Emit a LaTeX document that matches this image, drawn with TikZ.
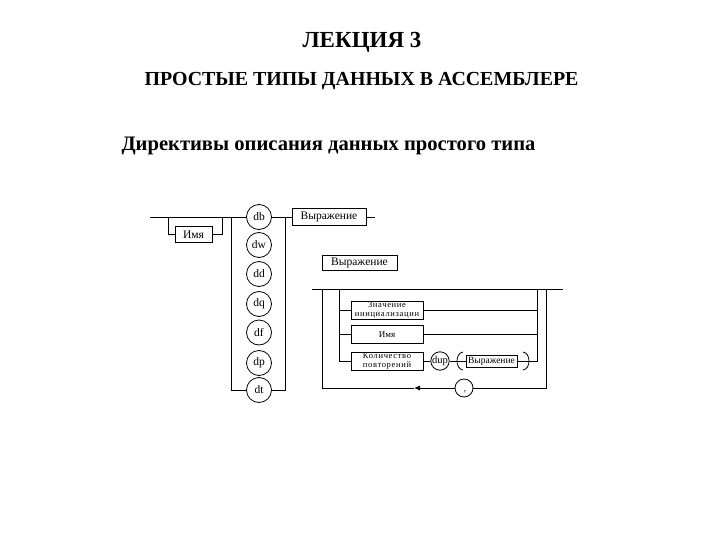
\documentclass[tikz,border=0pt]{standalone}
\usepackage{fontspec}
\setmainfont{Liberation Serif}
\newfontfamily\tmsfont{Liberation Serif}
\usetikzlibrary{arrows.meta}
\begin{document}
\begin{tikzpicture}[x=1pt,y=-1pt,line width=0.8pt,
  title/.style={anchor=base,inner sep=0pt},
  term/.style={draw,circle,minimum size=25pt,inner sep=0pt,font=\tmsfont\fontsize{11.5}{12}\selectfont},
  box/.style={draw,rectangle,inner sep=0pt,font=\tmsfont\fontsize{11.5}{12}\selectfont},
  sbox/.style={draw,rectangle,inner sep=0pt,align=center,font=\tmsfont\fontsize{8.5}{8.5}\selectfont\addfontfeatures{LetterSpace=8}},
]
\useasboundingbox (0,0) rectangle (720,540);
% titles
\node[title,font=\tmsfont\bfseries\fontsize{23}{26}\selectfont] (t1) at (362,48) {ЛЕКЦИЯ 3};
\node[title,font=\tmsfont\bfseries\fontsize{19.9}{22}\selectfont] (t2) at (361.5,85.5) {ПРОСТЫЕ ТИПЫ ДАННЫХ В АССЕМБЛЕРЕ};
\node[title,font=\tmsfont\bfseries\fontsize{20.6}{22}\selectfont] (t3) at (328.5,151) {Директивы описания данных простого типа};
% left part
\coordinate (start) at (150,217);
\coordinate (bl) at (168,217);
\coordinate (br) at (222,217);
\coordinate (vl) at (231,217);
\coordinate (vr) at (285,217);
\coordinate (eend) at (375,217);
\node[box,minimum width=37pt,minimum height=15.5pt] (imya) at (193.5,234.5) {Имя};
\node[term] (db) at (259,217) {db};
\node[term] (dw) at (259,245) {dw};
\node[term] (dd) at (259,274) {dd};
\node[term] (dq) at (259,304) {dq};
\node[term] (df) at (259,332.5) {df};
\node[term] (dp) at (259,363) {dp};
\node[term] (dt) at (259,390) {dt};
\node[box,minimum width=74pt,minimum height=17pt] (e1) at (329,217) {Выражение};
\node[box,minimum width=75pt,minimum height=15pt] (e2) at (359.5,262.5) {Выражение};
\draw (start) -- (db);
\draw (bl) |- (imya.west);
\draw (imya.east) -| (br);
\draw (vl) |- (dt.west);
\draw (vr) |- (dt.east);
\draw (db.east) -- (e1.west);
\draw (e1.east) -- (eend);
% loop
\coordinate (ls) at (312,289);
\coordinate (le) at (563,289);
\coordinate (ol) at (322,289);
\coordinate (or) at (546,289);
\coordinate (il) at (339.5,289);
\coordinate (ir) at (537,289);
\coordinate (olb) at (322,388);
\coordinate (orb) at (546,388);
\coordinate (arr) at (414,388);
\node[sbox,minimum width=72pt,minimum height=18pt] (v1) at (387,310) {Значение\\инициализации};
\node[sbox,minimum width=72pt,minimum height=17.5pt,font=\tmsfont\fontsize{9}{9}\selectfont] (v2) at (387,334.5) {Имя};
\node[sbox,minimum width=72pt,minimum height=18pt] (cnt) at (387,361) {Количество\\повторений};
\node[draw,circle,minimum size=16pt,inner sep=0pt,font=\tmsfont\fontsize{10.5}{11}\selectfont] (dup) at (440,361) {dup};
\node[box,minimum width=51pt,minimum height=12pt,font=\tmsfont\fontsize{9.5}{10}\selectfont] (e3) at (491.5,361) {Выражение};
\node[draw,circle,minimum size=18pt,inner sep=0pt] (comma) at (464,388) {};
\node[inner sep=0pt,font=\tmsfont\fontsize{9}{9}\selectfont] (commalbl) at (465,392) {,};
\draw (ls) -- (le);
\draw (ol) -- (olb);
\draw (or) -- (orb) -- (comma.east);
\draw[-{Latex[length=6pt,width=5pt]}] (comma.west) -- (arr);
\draw (arr) -- (olb);
\draw (il) |- (v1.west);
\draw (il) |- (v2.west);
\draw (il) |- (cnt.west);
\draw (v1.east) -| (ir);
\draw (v2.east) -| (ir);
\draw (ir) |- (e3.east);
\draw (cnt.east) -- (dup.west);
\draw (dup.east) -- (e3.west);
% parentheses
\draw (463,352) .. controls (455,353) and (455,369) .. (463,370);
\draw (523,352) .. controls (531,353) and (531,369) .. (523,370);
\end{tikzpicture}
\end{document}
